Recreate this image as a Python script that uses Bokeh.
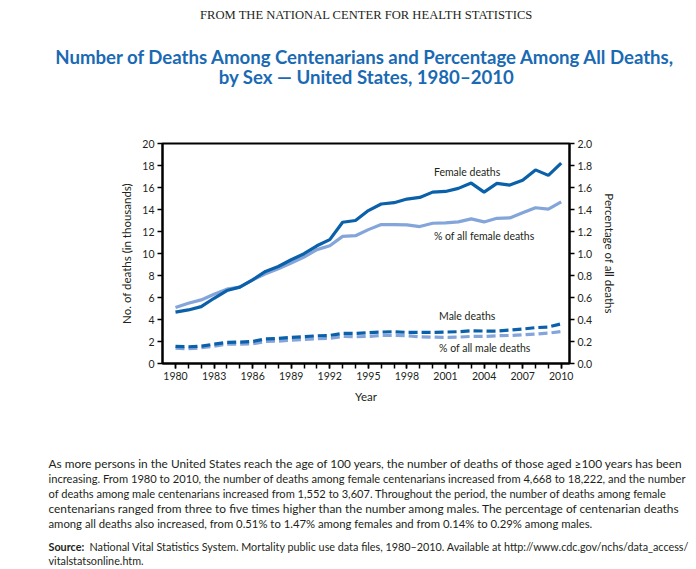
from bokeh.plotting import figure
from bokeh.layouts import column
from bokeh.models import Range1d, LinearAxis, FixedTicker, Label, PrintfTickFormatter
from bokeh.embed import file_html
from bokeh.resources import INLINE

# ---------------- data ----------------
years = list(range(1980, 2011))
female_deaths = [4.668, 4.87, 5.17, 5.93, 6.63, 6.94, 7.61, 8.37, 8.82, 9.43, 9.98,
                 10.70, 11.26, 12.84, 13.00, 13.90, 14.50, 14.62, 14.95, 15.10, 15.58,
                 15.64, 15.92, 16.40, 15.58, 16.37, 16.22, 16.65, 17.60, 17.10, 18.222]
female_pct = [0.51, 0.548, 0.578, 0.630, 0.676, 0.694, 0.760, 0.815, 0.861, 0.913, 0.968,
              1.035, 1.071, 1.156, 1.162, 1.217, 1.263, 1.263, 1.260, 1.245, 1.275,
              1.278, 1.287, 1.315, 1.287, 1.320, 1.323, 1.370, 1.416, 1.403, 1.47]
male_deaths = [1.552, 1.52, 1.58, 1.76, 1.92, 1.94, 2.00, 2.24, 2.28, 2.37, 2.43,
               2.52, 2.55, 2.74, 2.74, 2.80, 2.86, 2.89, 2.83, 2.83, 2.83,
               2.86, 2.89, 2.98, 2.95, 2.95, 3.04, 3.13, 3.26, 3.32, 3.607]
male_pct = [0.14, 0.134, 0.143, 0.158, 0.176, 0.176, 0.179, 0.200, 0.203, 0.212, 0.219,
            0.225, 0.228, 0.246, 0.243, 0.246, 0.255, 0.255, 0.252, 0.243, 0.240,
            0.237, 0.240, 0.246, 0.246, 0.252, 0.255, 0.261, 0.267, 0.276, 0.29]

x_major_ticks = list(range(1980, 2011, 3))
y_left_ticks = list(range(0, 21, 2))
y_right_ticks = [i / 10 for i in range(0, 21, 2)]

header_text = "FROM THE NATIONAL CENTER FOR HEALTH STATISTICS"
title_lines = ["Number of Deaths Among Centenarians and Percentage Among All Deaths,",
               "by Sex \u2014 United States, 1980\u20132010"]
paragraph_lines = [
    "As more persons in the United States reach the age of 100 years, the number of deaths of those aged \u2265100 years has been",
    "increasing. From 1980 to 2010, the number of deaths among female centenarians increased from 4,668 to 18,222, and the number",
    "of deaths among male centenarians increased from 1,552 to 3,607. Throughout the period, the number of deaths among female",
    "centenarians ranged from three to five times higher than the number among males. The percentage of centenarian deaths",
    "among all deaths also increased, from 0.51% to 1.47% among females and from 0.14% to 0.29% among males.",
]
source_bold = "Source:"
source_lines = ["National Vital Statistics System. Mortality public use data files, 1980\u20132010. Available at http://www.cdc.gov/nchs/data_access/",
                "vitalstatsonline.htm."]

# ---------------- styling ----------------
DARK = "#0b60aa"
LIGHT = "#84a5da"
TITLE_BLUE = "#1a6ab3"
TEXT = "#231f20"
FONT = "Lato"
W = 696
TOP_H = 108
MID_TOP, FH, MID_BOT = 35, 220, 47
L, FW = 162, 407
R = W - L - FW
BOT_H = 569 - TOP_H - (MID_TOP + FH + MID_BOT)
# per-line sizes so that each (justified in the original) line spans the text block
PARA_SIZES = ["11.85px", "11.15px", "11.08px", "11.9px", "11.3px"]


def text_fig(height, y0):
    f = figure(width=W, height=height, x_range=Range1d(0, W), y_range=Range1d(y0 + height, y0),
               x_axis_type=None, y_axis_type=None, min_border=0, frame_align=False,
               output_backend="svg", toolbar_location=None)
    f.grid.visible = False
    f.outline_line_color = None
    return f


def put(f, text, x, y, size, font=FONT, color=TEXT, align="left", style="normal"):
    f.add_layout(Label(x=x, y=y, text=text, text_font=font, text_font_size=size,
                       text_color=color, text_align=align, text_baseline="middle",
                       text_font_style=style))


# ---------------- top text ----------------
top = text_fig(TOP_H, 0)
put(top, header_text, 366, 14, "12.6px", font="Liberation Serif", align="center")
put(top, title_lines[0], 365, 56, "18.6px", color=TITLE_BLUE, align="center", style="bold")
put(top, title_lines[1], 366, 76, "18.6px", color=TITLE_BLUE, align="center", style="bold")

# ---------------- chart ----------------
p = figure(width=W, height=MID_TOP + FH + MID_BOT, frame_width=FW, frame_height=FH,
           min_border_left=L, min_border_right=R, min_border_top=MID_TOP, min_border_bottom=MID_BOT,
           x_range=Range1d(1978.99, 2010.645), y_range=Range1d(0, 20), frame_align=False,
           output_backend="svg", toolbar_location=None)
p.extra_y_ranges = {"pct": Range1d(0, 2)}
p.grid.visible = False
p.outline_line_color = "black"
p.outline_line_width = 2


def style_axis(ax):
    ax.axis_line_width = 2
    ax.axis_line_color = "black"
    ax.major_tick_line_color = "black"
    ax.major_tick_line_width = 1.5
    ax.major_tick_in = 0
    ax.major_tick_out = 5
    ax.major_label_text_font = FONT
    ax.major_label_text_font_size = "10.5px"
    ax.major_label_text_color = TEXT
    ax.axis_label_text_font = FONT
    ax.axis_label_text_font_size = "11.5px"
    ax.axis_label_text_font_style = "normal"
    ax.axis_label_text_color = TEXT


xa = p.xaxis[0]
xa.ticker = FixedTicker(ticks=x_major_ticks, minor_ticks=years)
style_axis(xa)
xa.minor_tick_line_color = "black"
xa.minor_tick_line_width = 1.5
xa.minor_tick_in = 0
xa.minor_tick_out = 5
xa.axis_label = "Year"
xa.axis_label_standoff = 7
xa.major_label_standoff = 3

ya = p.yaxis[0]
ya.ticker = FixedTicker(ticks=y_left_ticks)
style_axis(ya)
ya.minor_tick_line_color = None
ya.axis_label = "No. of deaths (in thousands)"
ya.axis_label_standoff = 6
ya.major_label_standoff = 3

ra = LinearAxis(y_range_name="pct", ticker=FixedTicker(ticks=y_right_ticks),
                formatter=PrintfTickFormatter(format="%.1f"),
                axis_label="Percentage of all deaths")
style_axis(ra)
ra.minor_tick_line_color = None
ra.axis_label_standoff = 8
ra.major_label_standoff = 3
p.add_layout(ra, "right")

p.line(years, female_pct, y_range_name="pct", line_color=LIGHT, line_width=3.2)
p.line(years, female_deaths, line_color=DARK, line_width=3.2)
p.line(years, male_pct, y_range_name="pct", line_color=LIGHT, line_width=3.2, line_dash="9 4")
p.line(years, male_deaths, line_color=DARK, line_width=3.2, line_dash="9 4")

for txt, x, y in [("Female deaths", 2000.1, 17.4), ("% of all female deaths", 2000.1, 11.6),
                  ("Male deaths", 2000.5, 4.35), ("% of all male deaths", 2000.5, 1.42)]:
    p.add_layout(Label(x=x, y=y, text=txt, text_font=FONT, text_font_size="10.5px",
                       text_color=TEXT, text_baseline="middle", text_align="left"))

# ---------------- bottom text ----------------
bot_y0 = TOP_H + MID_TOP + FH + MID_BOT
bot = text_fig(BOT_H, bot_y0)
for i, line in enumerate(paragraph_lines):
    put(bot, line, 48, 463 + 15 * i, PARA_SIZES[i])
put(bot, source_bold, 48, 546, "10.8px", style="bold")
put(bot, source_lines[0], 89, 546, "10.8px")
put(bot, source_lines[1], 48, 560, "10.8px")

layout = column(top, p, bot, spacing=0)
open("out.html", "w").write(file_html(layout, INLINE))
